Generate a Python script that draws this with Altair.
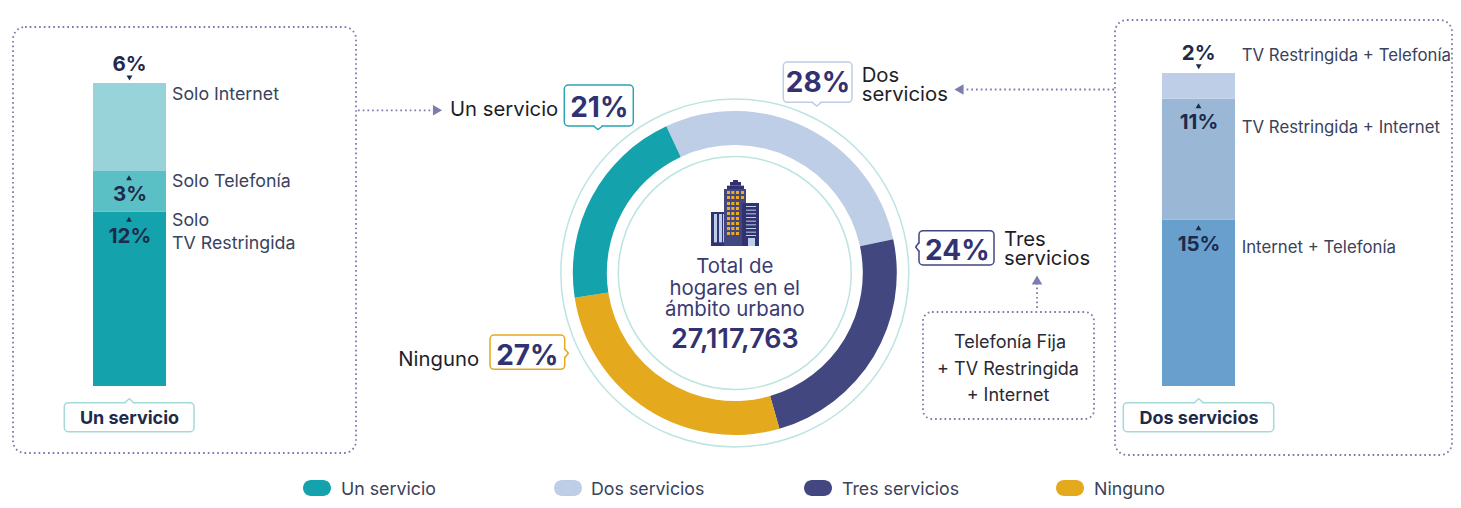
import altair as alt
import pandas as pd

# ---------- chart values ----------
donut_cats = ["Dos servicios", "Tres servicios", "Ninguno", "Un servicio"]
donut_vals = [28.6, 23.9, 27.0, 20.5]
donut_cols = ["#BDCEE6", "#43477F", "#E5A91D", "#14A2AC"]

left_cats = ["Solo TV Restringida", "Solo Telefonía", "Solo Internet"]
left_vals = [12.1, 2.8, 6.1]
left_cols = ["#14A2AC", "#5AC0C5", "#98D3DA"]

right_cats = ["Internet + Telefonía", "TV Restringida + Internet", "TV Restringida + Telefonía"]
right_vals = [14.9, 10.8, 2.3]
right_cols = ["#699FCD", "#9AB8D6", "#BDCEE6"]

legend_labels = ["Un servicio", "Dos servicios", "Tres servicios", "Ninguno"]
legend_cols = ["#14A2AC", "#BDCEE6", "#43477F", "#E5A91D"]

# ---------- styles ----------
FONT = "Inter"
NAVY = "#1E2A4A"
SLATE = "#3A425C"
INK = "#1E1E28"
PURPLE = "#323270"
DOT = "#7C7CAE"
DASH = [1.7, 3.0]

# The canvas scale works in picture pixels (page margin 8 px).
sx = alt.Scale(domain=[8, 1453], range=[0, 1445], nice=False, zero=False)
sy = alt.Scale(domain=[500, 8], nice=False, zero=False)


def X(f="x"):
    return alt.X(f"{f}:Q", scale=sx, axis=None)


def Y(f="y"):
    return alt.Y(f"{f}:Q", scale=sy, axis=None)


def text_layer(rows, size, color, weight=400, align="left"):
    df = pd.DataFrame(rows, columns=["t", "x", "y"])
    return alt.Chart(df).mark_text(
        font=FONT, fontSize=size, color=color, fontWeight=weight,
        align=align, baseline="alphabetic",
    ).encode(x=X(), y=Y(), text="t:N")


def rects(rows, **mark):
    df = pd.DataFrame(rows, columns=["x", "x1", "y", "y1", "c"])
    return alt.Chart(df).mark_rect(**mark).encode(
        x=X(), x2="x1:Q", y=Y(), y2="y1:Q",
        fill=alt.Fill("c:N", scale=None),
    )


def boxes(rows, radius):
    df = pd.DataFrame(rows, columns=["x", "x1", "y", "y1", "c"])
    return alt.Chart(df).mark_rect(
        fill="white", cornerRadius=radius, strokeWidth=1.5
    ).encode(x=X(), x2="x1:Q", y=Y(), y2="y1:Q",
             stroke=alt.Stroke("c:N", scale=None))


def stacked_bar(cats, vals, cols, x0, x1, total, top, bottom):
    df = pd.DataFrame({"cat": cats, "v": vals, "c": cols, "o": range(len(cats)),
                       "xa": [x0] * len(cats), "xb": [x1] * len(cats)})
    return alt.Chart(df).transform_stack(
        stack="v", as_=["y0", "y1"], groupby=[],
        sort=[alt.SortField("o", order="ascending")],
    ).mark_rect().encode(
        x=X("xa"), x2="xb:Q",
        y=alt.Y("y0:Q", axis=None,
                scale=alt.Scale(domain=[0, total], range=[bottom - 8, top - 8], nice=False, zero=False)),
        y2="y1:Q",
        fill=alt.Fill("c:N", scale=None),
    )


def symbols(rows, shape, size, color):
    df = pd.DataFrame(rows, columns=["x", "y"])
    return alt.Chart(df).mark_point(
        shape=shape, size=size, filled=True, color=color, opacity=1, strokeWidth=0
    ).encode(x=X(), y=Y())


def dotted(rows):
    df = pd.DataFrame(rows, columns=["x", "y", "x1", "y1"])
    return alt.Chart(df).mark_rule(
        color=DOT, strokeWidth=1.8, strokeDash=DASH
    ).encode(x=X(), y=Y(), x2="x1:Q", y2="y1:Q")


# ---------- callout notches ----------
notches = [
    (598, 129.5, 0, 1, "#2BA5B0", 126),
    (816.7, 106, 0, 1, "#BDCEE6", 102.3),
    (915.7, 247, -1, 0, "#43477F", 919),
    (568.3, 353.3, 1, 0, "#E5A91D", 564.7),
    (129.3, 398.7, 0, -1, "#A3DAD7", 402.7),
    (1198.7, 398.7, 0, -1, "#A3DAD7", 402.7),
]
chev, cover = [], []
for i, (tx, ty, dx, dy, c, edge) in enumerate(notches):
    hw = 4.5
    if dx == 0:
        a, b = (tx - hw, edge), (tx + hw, edge)
    else:
        a, b = (edge, ty - hw), (edge, ty + hw)
    chev += [(i, 0, a[0], a[1], c), (i, 1, tx, ty, c), (i, 2, b[0], b[1], c)]
    cover.append((a[0] + (1 if dx == 0 else 0), a[1] + (0 if dx == 0 else 1),
                  b[0] - (1 if dx == 0 else 0), b[1] - (0 if dx == 0 else 1)))

chev_df = pd.DataFrame(chev, columns=["id", "o", "x", "y", "c"])
notch_cover = alt.Chart(pd.DataFrame(cover, columns=["x", "y", "x1", "y1"])).mark_rule(
    color="white", strokeWidth=2.5
).encode(x=X(), y=Y(), x2="x1:Q", y2="y1:Q")
notch_lines = alt.Chart(chev_df).mark_line(strokeWidth=1.5).encode(
    x=X(), y=Y(), detail="id:N", order="o:Q", color=alt.Color("c:N", scale=None)
)

# ---------- donut and rings ----------
CX, CY = 734.8, 273
donut_df = pd.DataFrame({"cat": donut_cats, "v": donut_vals, "c": donut_cols, "o": range(4)})
start = 335 * 3.14159265 / 180
donut = alt.Chart(donut_df).mark_arc(innerRadius=128, outerRadius=162).encode(
    theta=alt.Theta("v:Q", stack="zero",
                    scale=alt.Scale(domain=[0, 100], range=[start, start + 2 * 3.14159265])),
    order=alt.Order("o:Q"),
    fill=alt.Fill("c:N", scale=None),
    x=alt.value(CX - 8), y=alt.value(CY - 8),
)
rings = alt.Chart(pd.DataFrame({"x": [CX, CX], "y": [CY, CY], "d": [348, 233]})).mark_point(
    filled=False, color="#BCE4E1", strokeWidth=1.5, opacity=1, shape="circle"
).encode(x=X(), y=Y(), size=alt.Size("s:Q", scale=None)).transform_calculate(s="datum.d*datum.d")

# ---------- building icon (from the reference's pixels, 3x crop origin 690,170) ----------
def px(a, b, c, d, col):
    return (690 + a / 3, 690 + b / 3, 170 + c / 3, 170 + d / 3, col)

ORANGE = "#EFAB1F"
PALE = "#BBD0E8"
icon = [
    px(63, 102, 126, 228, PURPLE), px(102, 168, 57, 228, "#43477F"),
    px(111, 162, 47, 57, PURPLE), px(120, 153, 36, 47, PURPLE), px(129, 144, 30, 36, PURPLE),
    px(156, 207, 99, 228, PURPLE),
    px(72, 81, 132, 217, PALE), px(87, 96, 132, 217, PALE), px(99, 102, 132, 217, PALE),
    px(174, 195, 204, 228, PALE),
]
for cx0 in (111, 124, 138, 153):
    for ry0 in (63, 78, 96, 111, 126, 141, 156, 171, 186):
        if cx0 == 153 and ry0 > 90:
            continue
        icon.append(px(cx0, cx0 + 9, ry0, ry0 + 9, ORANGE))
for s in (108, 119, 130, 141, 152, 163, 174, 185, 195):
    icon.append(px(168, 198, s, s + 3, PALE))

# ---------- legend ----------
legend_x = [303, 554, 804, 1056]
legend_pills = rects(
    [(x, x + 28, 480, 496, c) for x, c in zip(legend_x, legend_cols)], cornerRadius=8
)
legend_text = text_layer(
    [(t, x + 38 - (1 if i == 1 else 0), 494.5) for i, (t, x) in enumerate(zip(legend_labels, legend_x))],
    17.8, SLATE
)

layers = [
    # frames
    rects([(13, 356, 27, 453, "white")], cornerRadius=12, stroke=DOT, strokeWidth=1.8,
          strokeDash=DASH),
    # the page's usable width ends at x = 1453, so the right frame closes just inside it
    rects([(1115, 1452, 20, 455, "white")], cornerRadius=12, stroke=DOT, strokeWidth=1.8,
          strokeDash=DASH),
    rects([(923, 1094, 312, 419, "white")], cornerRadius=9, stroke=DOT, strokeWidth=1.8,
          strokeDash=DASH),
    # bars
    stacked_bar(left_cats, left_vals, left_cols, 93, 166, 21, 83, 386),
    stacked_bar(right_cats, right_vals, right_cols, 1162, 1235, 28, 73, 386),
    # connectors
    dotted([(358, 110.3, 433, 110.3), (1114, 89.5, 964, 89.5), (1037, 308, 1037, 284)]),
    symbols([(437.5, 110.3)], "triangle-right", 110, DOT),
    symbols([(959, 89.5)], "triangle-left", 110, DOT),
    symbols([(1037, 280)], "triangle-up", 110, DOT),
    # donut
    rings, donut,
    rects(icon),
    # callouts
    boxes([
        (564.3, 633.3, 85, 126, "#2BA5B0"),
        (783.3, 852, 62, 102.3, "#BDCEE6"),
        (919, 994, 230.7, 265, "#43477F"),
        (490, 564.7, 335, 369.3, "#E5A91D"),
    ], 4),
    boxes([
        (64.3, 194, 402.7, 431.7, "#A3DAD7"),
        (1123.3, 1273.7, 402.7, 431.7, "#A3DAD7"),
    ], 4),
    notch_cover, notch_lines,
    # little pointers
    symbols([(129.5, 78), (1198.7, 66.7)], "triangle-down", 34, NAVY),
    symbols([(129, 177.7), (129, 219.3), (1198.5, 105.7), (1198.5, 227.7)], "triangle-up", 34, NAVY),
    # percentages on the bars
    text_layer([("6%", 129.5, 70.7), ("3%", 130, 200.7), ("12%", 130, 243.3),
                ("2%", 1198.7, 59.5), ("11%", 1199, 129.3), ("15%", 1199, 251)],
               20.5, NAVY, 700, "center"),
    # bar labels
    text_layer([("Solo Internet", 172, 100), ("Solo Telefonía", 172, 187.3),
                ("Solo", 172, 226), ("TV Restringida", 172, 249.3)], 17.8, SLATE),
    text_layer([("TV Restringida + Telefonía", 1241.7, 61),
                ("TV Restringida + Internet", 1241.7, 133.3),
                ("Internet + Telefonía", 1241.7, 253.3)], 16.8, SLATE),
    text_layer([("Un servicio", 129.5, 424.3), ("Dos servicios", 1199, 424.3)],
               18, NAVY, 700, "center"),
    # donut labels
    text_layer([("Un servicio", 450, 116), ("Dos", 861.7, 82.3), ("servicios", 861.7, 100.7),
                ("Tres", 1004, 246), ("servicios", 1004, 265), ("Ninguno", 398.3, 365.7)],
               20.3, INK),
    text_layer([("21%", 599.3, 116.7), ("28%", 818, 92.3), ("24%", 957.3, 260), ("27%", 527.3, 365)],
               28, PURPLE, 700, "center"),
    # centre text
    text_layer([("Total de", CX, 273.3), ("hogares en el", CX, 294.5), ("ámbito urbano", CX, 316)],
               20.4, "#3B3B73", 400, "center"),
    text_layer([("27,117,763", CX, 348.3)], 27, PURPLE, 600, "center"),
    # box text
    text_layer([("Telefonía Fija", 1010, 348.3), ("+ TV Restringida", 1008, 375), ("+ Internet", 1008, 401)],
               18, "#2A2A35", 400, "center"),
    legend_pills, legend_text,
]

chart = alt.layer(*layers).resolve_scale(y="independent").properties(
    width=1445, height=492,
    autosize=alt.AutoSizeParams(type="none"),
    padding=0,
    background="white",
).configure_view(stroke=None)

chart.save("out.html", embed_options={"renderer": "svg", "actions": False})
